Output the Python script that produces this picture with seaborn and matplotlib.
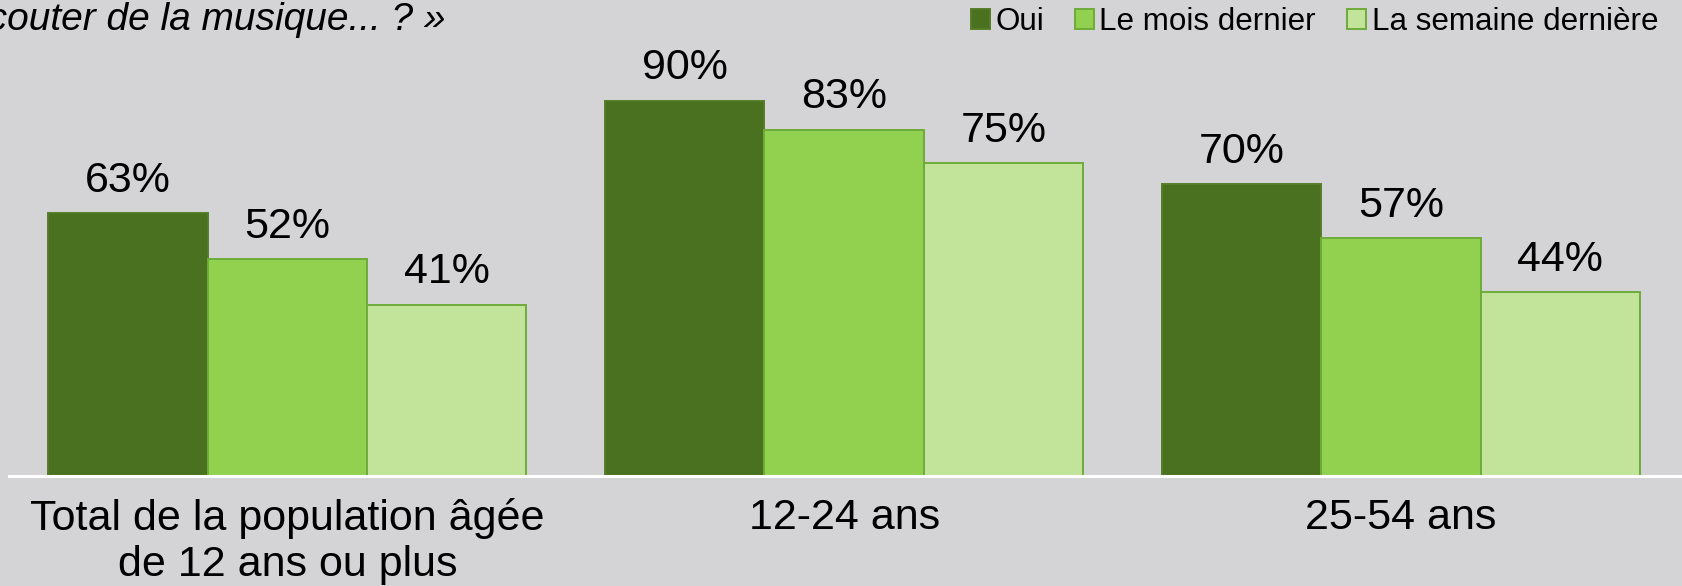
import pandas as pd
import matplotlib.pyplot as plt
import seaborn as sns
from matplotlib.patches import Patch

groupes = ["Total de la population âgée\nde 12 ans ou plus", "12-24 ans", "25-54 ans"]
series = ["Oui", "Le mois dernier", "La semaine dernière"]
oui = [63, 90, 70]
mois_dernier = [52, 83, 57]
semaine_derniere = [41, 75, 44]

couleurs = ["#4A7120", "#92D050", "#C1E49A"]
bordures = ["#557D28", "#6EAB3A", "#6EAB3A"]
fond = "#D4D4D6"

df = pd.DataFrame({
    "groupe": groupes * 3,
    "serie": [s for s in series for _ in groupes],
    "valeur": oui + mois_dernier + semaine_derniere,
})

sns.set_style("white")
plt.rcParams["font.family"] = ["Liberation Sans", "DejaVu Sans"]
plt.rcParams["text.color"] = "black"
plt.rcParams["xtick.color"] = "black"

fig = plt.figure(figsize=(16.82, 5.86), dpi=100, facecolor=fond)
ax = fig.add_axes([9 / 1682, (586 - 475.5) / 586, 1 - 9 / 1682, 416.3 / 586])
ax.set_facecolor(fond)

sns.barplot(data=df, x="groupe", y="valeur", hue="serie", order=groupes,
            hue_order=series, palette=couleurs, width=0.8585, gap=0,
            saturation=1, legend=False, ax=ax)

for cont, bc in zip(ax.containers, bordures):
    for bar in cont:
        bar.set_edgecolor(bc)
        bar.set_linewidth(1.4)
    ax.bar_label(cont, labels=[f"{int(b.get_height())}%" for b in cont],
                 padding=9, fontsize=31, color="black")

ax.set_xlim(-0.5, 2.505)
ax.set_ylim(0, 100)
ax.set_xlabel("")
ax.set_ylabel("")
ax.set_yticks([])
ax.tick_params(axis="x", length=0, pad=16, labelsize=31, labelcolor="black")
for t in ax.get_xticklabels():
    t.set_linespacing(1.2)
for s in ["top", "right", "left"]:
    ax.spines[s].set_visible(False)
ax.spines["bottom"].set_color("white")
ax.spines["bottom"].set_linewidth(2.2)

handles = [Patch(facecolor=c, edgecolor=b, linewidth=1.4) for c, b in zip(couleurs, bordures)]
fig.legend(handles, series, loc="upper right", bbox_to_anchor=(1658 / 1682, 1 - 7 / 586),
           ncol=3, frameon=False, fontsize=22.6, handlelength=0.6, handleheight=0.6,
           handletextpad=0.17, columnspacing=1.0, borderpad=0, borderaxespad=0)

# question posée (coupée à gauche, comme sur l'original)
fig.text(445 / 1682, 1 - 30 / 586, "écouter de la musique... ? »", ha="right",
         va="baseline", fontsize=28, style="italic", color="black")

fig.savefig("out.png", dpi=100, facecolor=fond)
